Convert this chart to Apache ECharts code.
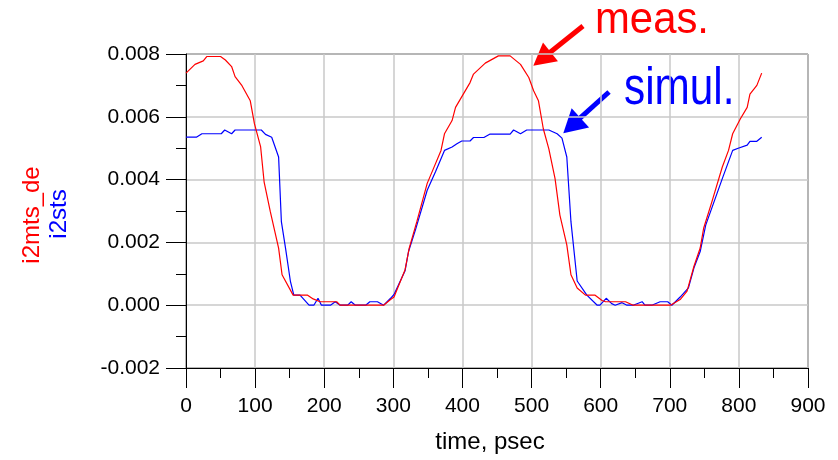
<!DOCTYPE html>
<html>
<head>
<meta charset="utf-8">
<script src="https://cdn.jsdelivr.net/npm/echarts@6/dist/echarts.min.js"></script>
<style>
html,body{margin:0;padding:0;background:#fff;}
#chart{width:838px;height:460px;}
</style>
</head>
<body>
<div id="chart"></div>
<script>
// ---- data (time in psec, current in A) ----
const measTime = [0,13,25,30,50,57,66,71,81,93,99,108,113,122,134,139,155,176,184,194,218,223,286,296,301,317,323,334,349,358,369,374,385,390,411,416,433,452,469,484,496,503,510,517,525,534,541,551,557,566,578,592,602,607,636,647,701,715,725,735,744,749,761,776,785,791,802,812,816,826,833];
const measVal  = [0.00739,0.00767,0.00778,0.00792,0.00792,0.00781,0.00760,0.00728,0.00699,0.00651,0.00578,0.00504,0.00393,0.00298,0.00182,0.00097,0.00032,0.00032,0.00020,0.00011,0.00011,0.00000,0.00000,0.00018,0.00026,0.00113,0.00182,0.00266,0.00388,0.00435,0.00493,0.00546,0.00588,0.00630,0.00709,0.00736,0.00771,0.00794,0.00794,0.00767,0.00725,0.00683,0.00651,0.00562,0.00498,0.00403,0.00287,0.00192,0.00097,0.00055,0.00032,0.00032,0.00015,0.00011,0.00011,0.00000,0.00000,0.00018,0.00045,0.00124,0.00182,0.00245,0.00330,0.00440,0.00493,0.00546,0.00593,0.00630,0.00672,0.00700,0.00739];
const simTime  = [0,15,23,51,56,62,66,71,109,115,124,134,138,144,151,156,165,178,185,191,196,209,216,223,234,239,245,260,266,277,286,296,301,317,322,332,349,361,374,385,392,399,411,416,431,440,469,474,484,493,525,537,544,551,557,566,580,595,599,608,616,621,631,638,647,660,664,674,686,697,703,715,727,735,744,752,776,791,799,812,816,826,833];
const simVal   = [0.00535,0.00535,0.00546,0.00546,0.00558,0.00551,0.00546,0.00558,0.00558,0.00544,0.00535,0.00472,0.00266,0.00182,0.00077,0.00032,0.00032,0.00000,0.00000,0.00022,0.00000,0.00000,0.00011,0.00000,0.00000,0.00011,0.00000,0.00000,0.00011,0.00011,0.00000,0.00022,0.00034,0.00110,0.00171,0.00240,0.00366,0.00425,0.00493,0.00504,0.00514,0.00523,0.00523,0.00534,0.00534,0.00545,0.00545,0.00558,0.00546,0.00558,0.00558,0.00546,0.00532,0.00472,0.00266,0.00077,0.00032,0.00000,0.00000,0.00022,0.00005,0.00000,0.00008,0.00000,0.00000,0.00011,0.00000,0.00000,0.00011,0.00011,0.00000,0.00026,0.00055,0.00119,0.00171,0.00255,0.00403,0.00493,0.00500,0.00510,0.00522,0.00522,0.00535];
const xTitle = 'time, psec';
const yNameMeas = 'i2mts_de';
const yNameSim = 'i2sts';
const noteMeas = 'meas.';
const noteSim = 'simul.';

const FONT = '"Liberation Sans", Arial, Helvetica, sans-serif';

function pairs(ts, vs){ return ts.map((t,i)=>[t, vs[i]]); }

function arrow(x1,y1,x2,y2,color,headLen,headHalf,lw){
  const dx=x2-x1, dy=y2-y1, L=Math.hypot(dx,dy);
  const ux=dx/L, uy=dy/L;
  const bx=x2-ux*headLen, by=y2-uy*headLen;
  const px=-uy, py=ux;
  return [
    {type:'line', silent:true, shape:{x1:x1,y1:y1,x2:bx+ux*2,y2:by+uy*2}, style:{stroke:color,lineWidth:lw}},
    {type:'polygon', silent:true, shape:{points:[[x2,y2],[bx+px*headHalf,by+py*headHalf],[bx-px*headHalf,by-py*headHalf]]}, style:{fill:color}}
  ];
}

const chart = echarts.init(document.getElementById('chart'), null, {renderer:'canvas'});
const axisCommon = {
  axisLine:{show:true,onZero:false,lineStyle:{color:'#000',width:1}},
  axisTick:{show:true,inside:false,length:20,lineStyle:{color:'#000',width:1}},
  minorTick:{show:true,splitNumber:2,length:10,lineStyle:{color:'#000',width:1}},
  splitLine:{show:true,lineStyle:{color:'#c8c8c8',width:1.5}},
  minorSplitLine:{show:false}
};
const option = {
  animation:false,
  backgroundColor:'#fff',
  grid:{left:186,right:30,top:54,bottom:92,show:true,borderColor:'#000',borderWidth:1,backgroundColor:'rgba(0,0,0,0)'},
  xAxis:Object.assign({
    type:'value', min:0, max:900, interval:100,
    axisLabel:{fontSize:21,color:'#000',margin:28,fontFamily:FONT},
    name:xTitle, nameLocation:'middle', nameGap:62,
    nameTextStyle:{fontSize:24,color:'#000',fontFamily:FONT,padding:[0,14,0,0]}
  }, axisCommon),
  yAxis:Object.assign({
    type:'value', min:-0.002, max:0.008, interval:0.002,
    axisLabel:{fontSize:21,color:'#000',margin:26,fontFamily:FONT,formatter:v=>v.toFixed(3)}
  }, axisCommon),
  series:[
    {name:'simul', type:'line', data:pairs(simTime,simVal), showSymbol:false, symbol:'none',
     lineStyle:{color:'#0000ff',width:1.2}, itemStyle:{color:'#0000ff'}},
    {name:'meas', type:'line', data:pairs(measTime,measVal), showSymbol:false, symbol:'none',
     lineStyle:{color:'#ff0000',width:1.2}, itemStyle:{color:'#ff0000'}}
  ],
  graphic:[
    {type:'text', x:32, y:215, rotation:Math.PI/2, style:{text:yNameMeas, x:0, y:0, align:'center', verticalAlign:'middle', fontSize:24, fontFamily:FONT, fill:'#ff0000'}},
    {type:'text', x:59, y:214, rotation:Math.PI/2, style:{text:yNameSim, x:0, y:0, align:'center', verticalAlign:'middle', fontSize:24, fontFamily:FONT, fill:'#0000ff'}},
    {type:'text', x:595, y:21, scaleX:0.93, style:{text:noteMeas, x:0, y:0, align:'left', verticalAlign:'middle', fontSize:45, fontFamily:FONT, fill:'#ff0000'}},
    {type:'text', x:624, y:90, scaleX:0.83, style:{text:noteSim, x:0, y:0, align:'left', verticalAlign:'middle', fontSize:51, fontFamily:FONT, fill:'#0000ff'}}
  ].concat(arrow(583,26,533.3,65.7,'#ff0000',22,12,5))
   .concat(arrow(609,92,563.3,133.3,'#0000ff',23,13,5))
};
chart.setOption(option);
</script>
</body>
</html>
